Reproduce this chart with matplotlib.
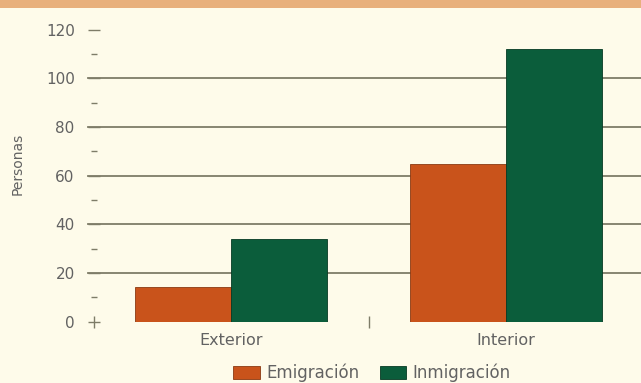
import numpy as np
import matplotlib
matplotlib.use("Agg")
import matplotlib.pyplot as plt
from matplotlib.patches import Rectangle
from matplotlib.ticker import MultipleLocator

# data
categories = ["Exterior", "Interior"]
series_names = ["Emigración", "Inmigración"]
emigracion = [14, 65]
inmigracion = [34, 112]
yticks = [0, 20, 40, 60, 80, 100, 120]

orange = "#C9531B"
green = "#0B5D3B"
bg = "#FEFBEA"
grid_col = "#7E7C68"
txt_col = "#626262"

plt.rcParams['font.family'] = ['DejaVu Sans']

fig = plt.figure(figsize=(6.41, 3.83), dpi=100)
fig.patch.set_facecolor(bg)
# tan band across the top
fig.patches.append(Rectangle((0, 1 - 8/383), 1, 8/383, transform=fig.transFigure,
                             facecolor="#E8B07C", edgecolor="none"))

ax = fig.add_axes([93.5/641, 1 - 321.5/383, 550/641, 291.6/383])
ax.set_facecolor(bg)

x = np.arange(len(categories))
w = 0.35
ax.bar(x - w/2, emigracion, w, color=orange, edgecolor="#8a3a12", linewidth=0.6,
       label=series_names[0], zorder=3)
ax.bar(x + w/2, inmigracion, w, color=green, edgecolor="#063a24", linewidth=0.6,
       label=series_names[1], zorder=3)

ax.set_xlim(-0.5, 1.5)
ax.set_ylim(0, 120)

for s in ax.spines.values():
    s.set_visible(False)

# gridlines at 20..100, starting at the tick marks left of the axis
for v in yticks[1:-1]:
    ax.axhline(v, xmin=-0.01, xmax=1, color=grid_col, linewidth=1.3, zorder=1,
               clip_on=False)

ax.set_yticks(yticks)
ax.yaxis.set_minor_locator(MultipleLocator(10))
ax.tick_params(axis='y', which='major', direction='inout', length=8, width=1,
               color=grid_col, labelcolor=txt_col, labelsize=11, pad=9.5)
ax.tick_params(axis='y', which='minor', direction='inout', length=4, width=1,
               color=grid_col)

# category labels centred, boundary ticks between categories
ax.set_xticks([-0.5, 0.5, 1.5])
ax.set_xticklabels([])
ax.tick_params(axis='x', which='major', direction='inout', length=8, width=1,
               color=grid_col)
ax.set_xticks(x, minor=True)
ax.set_xticklabels(categories, minor=True)
ax.tick_params(axis='x', which='minor', length=0, labelcolor=txt_col,
               labelsize=11.5, pad=8)

ax.set_ylabel("Personas", color=txt_col, fontsize=10)
ax.yaxis.set_label_coords(-0.126, 0.54)

leg = fig.legend(loc='center', bbox_to_anchor=(372/641, 1 - 373/383), ncol=2,
                 frameon=False, fontsize=12, handlelength=1.6, handleheight=0.9,
                 columnspacing=1.2, handletextpad=0.4)
for t in leg.get_texts():
    t.set_color(txt_col)

fig.savefig("out.png", dpi=100, facecolor=bg)
